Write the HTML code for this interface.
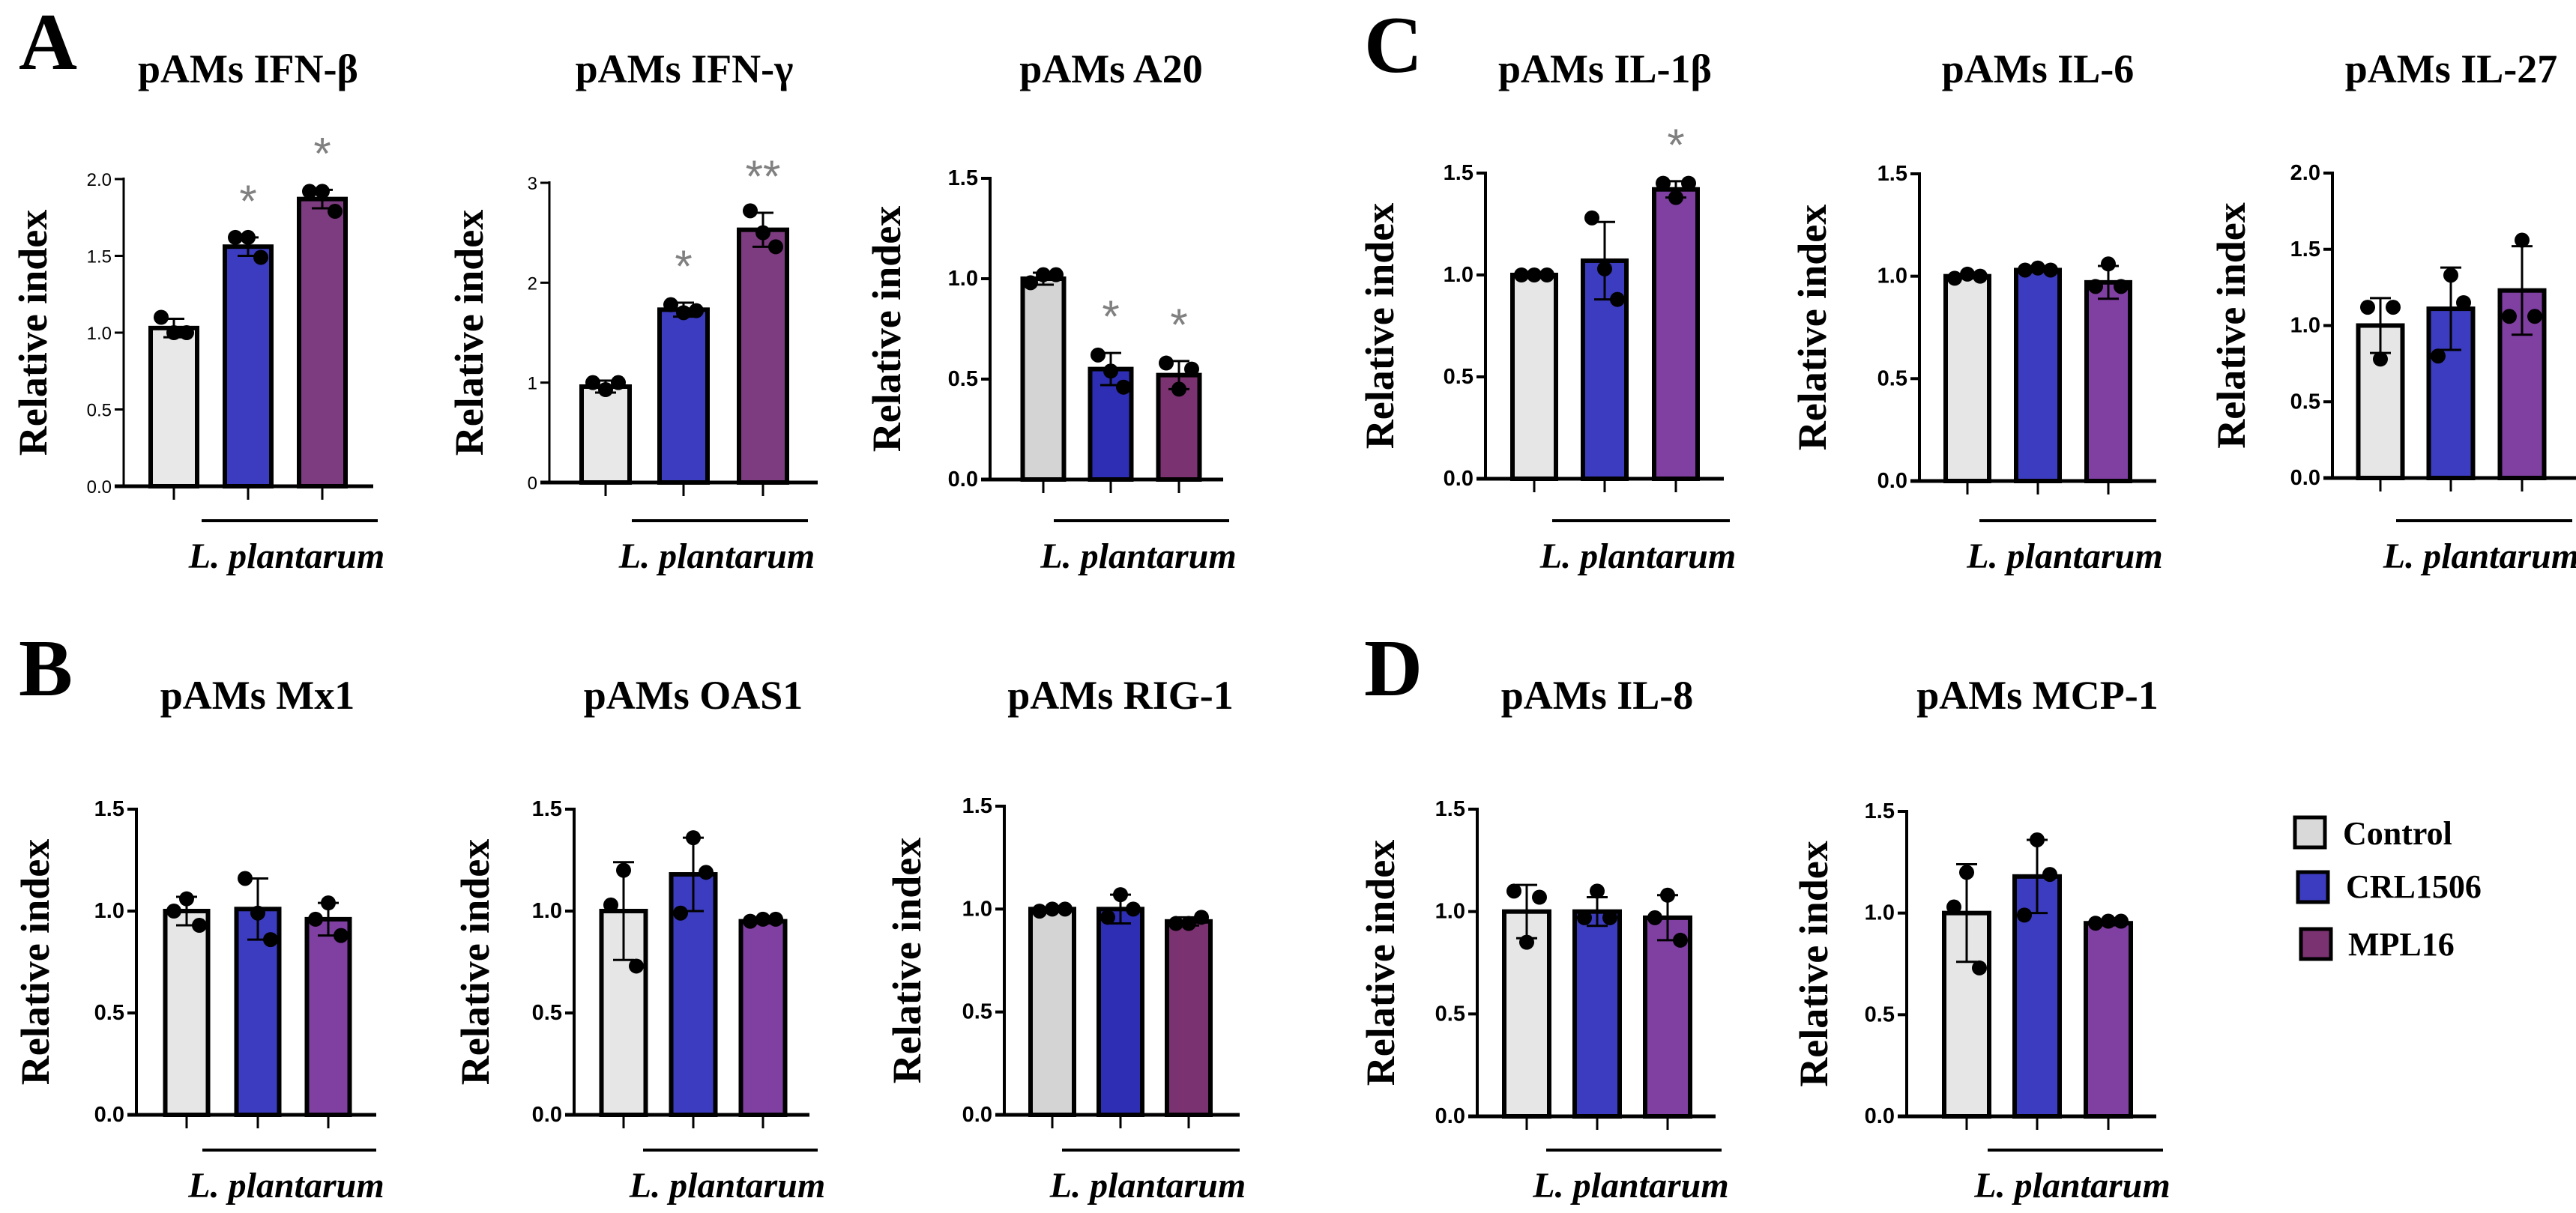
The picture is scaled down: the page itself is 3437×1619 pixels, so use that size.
<!DOCTYPE html>
<html><head><meta charset="utf-8"><style>
html,body{margin:0;padding:0;background:#fff;}
svg{display:block;}
</style></head><body>
<svg id="fig" xmlns="http://www.w3.org/2000/svg" width="3437" height="1619" viewBox="0 0 3437 1619">
<rect width="3437" height="1619" fill="#fff"/>
<g font-family="Liberation Serif, serif" font-weight="bold" fill="#000">
<text x="25" y="92" font-size="108">A</text>
<text x="25" y="928" font-size="108">B</text>
<text x="1820" y="96" font-size="108">C</text>
<text x="1820" y="928" font-size="108">D</text>
</g>
<g font-family="Liberation Serif, serif" font-weight="bold" font-size="44">
<rect x="3062" y="1091" width="40" height="40" fill="#d9d9d9" stroke="#000" stroke-width="5"/>
<text x="3126" y="1127">Control</text>
<rect x="3066" y="1164" width="40" height="40" fill="#3c3cc0" stroke="#000" stroke-width="5"/>
<text x="3130" y="1198">CRL1506</text>
<rect x="3070" y="1240" width="40" height="40" fill="#7a3270" stroke="#000" stroke-width="5"/>
<text x="3133" y="1275">MPL16</text>
</g>
<g id="panels"></g>
</svg>
<script>
// ---- data ----
const categories = ['Control','CRL1506','MPL16'];
const ifnbMeans = [1.03, 1.56, 1.87];
const ifnbErr = [0.06, 0.06, 0.06];
const ifnbDots = [[1.10,1.0,1.0],[1.62,1.62,1.49],[1.92,1.92,1.79]];
const ifnbSig = ['', '*', '*'];
const ifngMeans = [0.96, 1.73, 2.53];
const ifngErr = [0.06, 0.07, 0.17];
const ifngDots = [[1.0,0.93,1.0],[1.78,1.70,1.72],[2.72,2.50,2.36]];
const ifngSig = ['', '*', '**'];
const a20Means = [1.0, 0.55, 0.52];
const a20Err = [0.03, 0.08, 0.07];
const a20Dots = [[0.98,1.02,1.02],[0.62,0.54,0.46],[0.58,0.45,0.55]];
const a20Sig = ['', '*', '*'];
const il1bMeans = [1.0, 1.07, 1.42];
const il1bErr = [0.005, 0.19, 0.04];
const il1bDots = [[1.0,1.0,1.0],[1.28,1.03,0.88],[1.45,1.38,1.45]];
const il1bSig = ['', '', '*'];
const il6Means = [1.0, 1.03, 0.97];
const il6Err = [0.01, 0.005, 0.08];
const il6Dots = [[0.99,1.01,1.0],[1.03,1.04,1.03],[0.95,1.06,0.95]];
const il27Means = [1.0, 1.11, 1.23];
const il27Err = [0.18, 0.27, 0.29];
const il27Dots = [[1.12,0.78,1.12],[0.80,1.33,1.15],[1.06,1.56,1.06]];
const mx1Means = [1.0, 1.01, 0.96];
const mx1Err = [0.07, 0.15, 0.08];
const mx1Dots = [[1.0,1.06,0.93],[1.16,0.99,0.86],[0.96,1.04,0.88]];
const oas1Means = [1.0, 1.18, 0.95];
const oas1Err = [0.24, 0.18, 0.01];
const oas1Dots = [[1.03,1.20,0.73],[0.99,1.36,1.19],[0.95,0.96,0.96]];
const rig1Means = [1.0, 1.0, 0.94];
const rig1Err = [0.005, 0.07, 0.02];
const rig1Dots = [[0.99,1.0,1.0],[0.96,1.07,1.0],[0.93,0.93,0.96]];
const il8Means = [1.0, 1.0, 0.97];
const il8Err = [0.13, 0.07, 0.11];
const il8Dots = [[1.10,0.85,1.07],[0.97,1.10,0.97],[0.97,1.08,0.86]];
const mcp1Means = [1.0, 1.18, 0.95];
const mcp1Err = [0.24, 0.18, 0.01];
const mcp1Dots = [[1.03,1.20,0.73],[0.99,1.36,1.19],[0.95,0.96,0.96]];
const tickIfnb = [0, 0.5, 1.0, 1.5, 2.0];
const tickIfng = [0, 1, 2, 3];
const tick15 = [0, 0.5, 1.0, 1.5];
const tick20 = [0, 0.5, 1.0, 1.5, 2.0];

// ---- layout (pixels) ----
const panels = [
 {id:'ifn-beta', title:'pAMs IFN-β', m:ifnbMeans, e:ifnbErr, d:ifnbDots, s:ifnbSig, ticks:tickIfnb, dec:1, thin:true, ax:165, top:239, zero:649, xEnd:498, off:[67,166,265], bw:62, ul:[269,504], lab:44, col:['#e8e8e8','#3c3cc0','#7e3c80']},
 {id:'ifn-gamma', title:'pAMs IFN-γ', m:ifngMeans, e:ifngErr, d:ifngDots, s:ifngSig, ticks:tickIfng, dec:0, thin:true, ax:733, top:244, zero:644, xEnd:1091, off:[75,179,285], bw:64, ul:[843,1078], lab:626, col:['#e8e8e8','#3c3cc0','#7e3c80']},
 {id:'a20', title:'pAMs A20', m:a20Means, e:a20Err, d:a20Dots, s:a20Sig, ticks:tick15, dec:1, ax:1321, top:238, zero:640, xEnd:1632, off:[71,161,252], bw:55, ul:[1406,1640], lab:1183, col:['#d4d4d4','#2e2eb4','#7a3270']},
 {id:'il-1beta', title:'pAMs IL-1β', m:il1bMeans, e:il1bErr, d:il1bDots, s:il1bSig, ticks:tick15, dec:1, ax:1982, top:231, zero:639, xEnd:2300, off:[65,159,254], bw:58, ul:[2071,2308], lab:1841, col:['#e6e6e6','#3c3cc0','#8040a2']},
 {id:'il-6', title:'pAMs IL-6', m:il6Means, e:il6Err, d:il6Dots, s:null, ticks:tick15, dec:1, ax:2561, top:232, zero:642, xEnd:2877, off:[64,158,252], bw:58, ul:[2641,2877], lab:2418, col:['#e6e6e6','#3c3cc0','#8040a2']},
 {id:'il-27', title:'pAMs IL-27', m:il27Means, e:il27Err, d:il27Dots, s:null, ticks:tick20, dec:1, ax:3112, top:231, zero:638, xEnd:3437, off:[64,158,253], bw:59, ul:[3197,3432], lab:2977, col:['#e6e6e6','#3c3cc0','#8040a2']},
 {id:'mx1', title:'pAMs Mx1', m:mx1Means, e:mx1Err, d:mx1Dots, s:null, ticks:tick15, dec:1, ax:182, top:1080, zero:1488, xEnd:502, off:[67,162,256], bw:57, ul:[270,502], lab:47, col:['#e6e6e6','#3c3cc0','#8040a2']},
 {id:'oas1', title:'pAMs OAS1', m:oas1Means, e:oas1Err, d:oas1Dots, s:null, ticks:tick15, dec:1, ax:766, top:1080, zero:1488, xEnd:1080, off:[66,159,252], bw:59, ul:[858,1091], lab:634, col:['#e6e6e6','#3c3cc0','#8040a2']},
 {id:'rig-1', title:'pAMs RIG-1', m:rig1Means, e:rig1Err, d:rig1Dots, s:null, ticks:tick15, dec:1, ax:1340, top:1076, zero:1488, xEnd:1654, off:[64,155,246], bw:58, ul:[1417,1654], lab:1210, col:['#d4d4d4','#2e2eb4','#7a3270']},
 {id:'il-8', title:'pAMs IL-8', m:il8Means, e:il8Err, d:il8Dots, s:null, ticks:tick15, dec:1, ax:1971, top:1080, zero:1490, xEnd:2289, off:[66,160,254], bw:60, ul:[2063,2297], lab:1842, col:['#e6e6e6','#3c3cc0','#8040a2']},
 {id:'mcp-1', title:'pAMs MCP-1', m:mcp1Means, e:mcp1Err, d:mcp1Dots, s:null, ticks:tick15, dec:1, ax:2544, top:1083, zero:1490, xEnd:2877, off:[80,174,269], bw:60, ul:[2652,2886], lab:2420, col:['#e6e6e6','#3c3cc0','#8040a2']}
];
const NS = 'http://www.w3.org/2000/svg';
const root = document.getElementById('panels');
function mk(tag, attrs, parent){
  const el = document.createElementNS(NS, tag);
  for (const k in attrs) el.setAttribute(k, attrs[k]);
  parent.appendChild(el);
  return el;
}
panels.forEach(p => {
  const g = mk('g', {}, root);
  
  
  const maxV = p.ticks[p.ticks.length-1];
  const y = v => p.zero - (v / maxV) * (p.zero - p.top);
  const row2 = p.zero > 1000;
  const cx = i => p.ax + p.off[i];
  const mid = (cx(0) + cx(2)) / 2;
  const t = mk('text', {x: mid, y: row2 ? 946 : 110, 'text-anchor':'middle', 'font-family':'Liberation Serif, serif', 'font-weight':'bold', 'font-size':'54'}, g);
  t.textContent = p.title;
  
  
  const yl = mk('text', {x:0, y:0, transform:'translate(' + (p.lab+18) + ',' + ((p.top+p.zero)/2) + ') rotate(-90)', 'text-anchor':'middle', 'font-family':'Liberation Serif, serif', 'font-weight':'bold', 'font-size':'54'}, g);
  yl.textContent = 'Relative index';
  
  
  p.m.forEach((v, i) => {
    const b = mk('rect', {x: cx(i) - p.bw/2, y: y(v), width: p.bw, height: p.zero - y(v), fill: p.col[i], stroke:'#000', 'stroke-width':'6'}, g);
    
    
  });
  p.m.forEach((v, i) => {
    const hi = y(v + p.e[i]), lo = y(v - p.e[i]);
    const eb = mk('path', {d: 'M' + cx(i) + ' ' + hi + 'V' + lo + 'M' + (cx(i)-14) + ' ' + hi + 'H' + (cx(i)+14) + 'M' + (cx(i)-14) + ' ' + lo + 'H' + (cx(i)+14), stroke:'#000', 'stroke-width':'3', fill:'none'}, g);
    
    
  });
  p.d.forEach((arr, i) => {
    arr.forEach((v, j) => {
      const c = mk('circle', {cx: cx(i) + (j-1)*17, cy: y(v), r: 10, fill:'#000'}, g);
      
      
    });
  });
  if (p.s) p.s.forEach((s, i) => {
    if (!s) return;
    const st = mk('text', {x: cx(i), y: y(p.m[i] + p.e[i]) - 28, 'text-anchor':'middle', 'font-family':'Liberation Sans, sans-serif', 'font-size':'60', fill:'#808080'}, g);
    st.textContent = s;
    
    
  });
  const yax = mk('line', {x1:p.ax, y1:p.top - 2, x2:p.ax, y2:p.zero, stroke:'#000', 'stroke-width': p.thin ? '3' : '4'}, g);
  
  
  const xax = mk('line', {x1:p.ax - 12, y1:p.zero, x2:p.xEnd, y2:p.zero, stroke:'#000', 'stroke-width':'5'}, g);
  
  
  p.ticks.forEach(tv => {
    const tk = mk('line', {x1:p.ax - 12, y1:y(tv), x2:p.ax, y2:y(tv), stroke:'#000', 'stroke-width': p.thin ? '3' : '4'}, g);
    
    
    const tl = mk('text', {x:p.ax - 16, y:y(tv) + 9, 'text-anchor':'end', 'font-family':'Liberation Sans, sans-serif', 'font-weight': p.thin ? 'normal' : 'bold', 'font-size': p.thin ? '24' : '29'}, g);
    tl.textContent = tv.toFixed(p.dec);
    
    
  });
  categories.forEach((c, i) => {
    const xt = mk('line', {x1:cx(i), y1:p.zero, x2:cx(i), y2:p.zero + 18, stroke:'#000', 'stroke-width':'3'}, g);
    
    
  });
  const ulY = row2 ? 1535 : 695;
  const ul = mk('line', {x1:p.ul[0], y1:ulY, x2:p.ul[1], y2:ulY, stroke:'#000', 'stroke-width':'4'}, g);
  
  
  const lp = mk('text', {x:(p.ul[0]+p.ul[1])/2 - 4, y: row2 ? 1598 : 758, 'text-anchor':'middle', 'font-family':'Liberation Serif, serif', 'font-weight':'bold', 'font-style':'italic', 'font-size':'48'}, g);
  lp.textContent = 'L. plantarum';
  
  
});
</script>
</body></html>
